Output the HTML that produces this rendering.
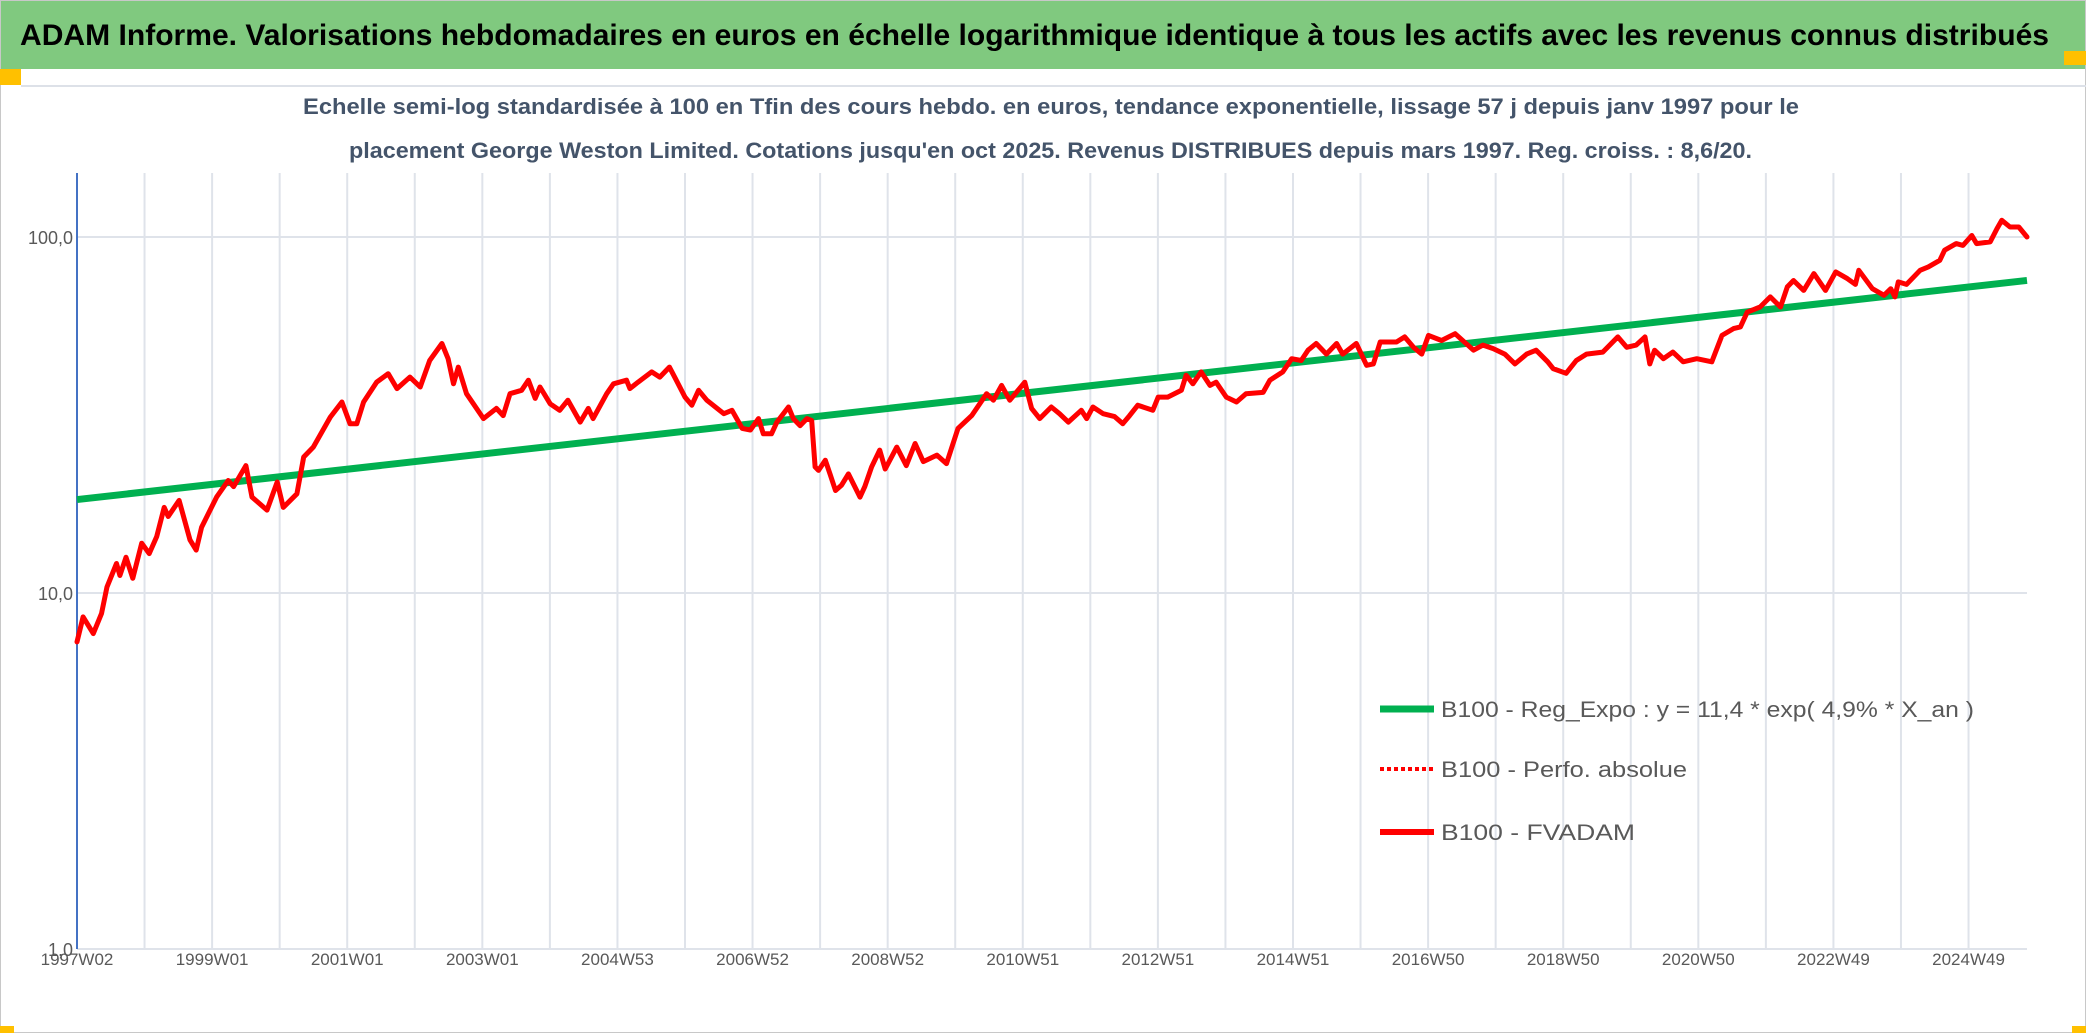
<!DOCTYPE html>
<html><head><meta charset="utf-8"><style>
html,body{margin:0;padding:0;background:#fff;}
svg{display:block;}
</style></head><body>
<svg id="chart" width="2086" height="1033" viewBox="0 0 2086 1033" xmlns="http://www.w3.org/2000/svg">
<rect x="0" y="0" width="2086" height="1033" fill="#fff"/>
<rect x="0.5" y="0.5" width="2085" height="1032" fill="none" stroke="#c8c8c8"/>
<rect x="1" y="1" width="2084" height="68" fill="#80c97f"/>
<rect x="0" y="69" width="21" height="16" fill="#ffc000"/>
<rect x="2064" y="51" width="22" height="14" fill="#ffc000"/>
<rect x="0" y="1026" width="14" height="7" fill="#ffc000"/>
<rect x="2072" y="1026" width="14" height="7" fill="#ffc000"/>
<line x1="21" y1="86" x2="2086" y2="86" stroke="#dde1e8" stroke-width="2"/>
<text x="20" y="45" font-family="Liberation Sans, sans-serif" font-weight="bold" font-size="30" fill="#000" textLength="2029" lengthAdjust="spacingAndGlyphs">ADAM Informe. Valorisations hebdomadaires en euros en échelle logarithmique identique à tous les actifs avec les revenus connus distribués</text>
<text x="303" y="114" font-family="Liberation Sans, sans-serif" font-weight="bold" font-size="22" fill="#44546a" textLength="1496" lengthAdjust="spacingAndGlyphs">Echelle semi-log standardisée à 100 en Tfin des cours hebdo. en euros, tendance exponentielle, lissage 57 j depuis janv 1997 pour le</text>
<text x="349" y="158" font-family="Liberation Sans, sans-serif" font-weight="bold" font-size="22" fill="#44546a" textLength="1403" lengthAdjust="spacingAndGlyphs">placement George Weston Limited. Cotations jusqu'en oct 2025. Revenus DISTRIBUES depuis mars 1997. Reg. croiss. : 8,6/20.</text>
<g id="grid"></g>
<g id="axes"></g>
<g id="series"></g>
<g id="legend">
  <line x1="1380" y1="709" x2="1434" y2="709" stroke="#00b050" stroke-width="7"/>
  <text x="1441" y="717" font-family="Liberation Sans, sans-serif" font-size="22" fill="#595959" textLength="533" lengthAdjust="spacingAndGlyphs">B100 - Reg_Expo : y = 11,4 * exp( 4,9% *  X_an )</text>
  <line x1="1380" y1="769" x2="1434" y2="769" stroke="#ff0000" stroke-width="4" stroke-dasharray="4,3"/>
  <text x="1441" y="777" font-family="Liberation Sans, sans-serif" font-size="22" fill="#595959" textLength="246" lengthAdjust="spacingAndGlyphs">B100 - Perfo. absolue</text>
  <line x1="1380" y1="832" x2="1434" y2="832" stroke="#ff0000" stroke-width="6"/>
  <text x="1441" y="840" font-family="Liberation Sans, sans-serif" font-size="22" fill="#595959" textLength="194" lengthAdjust="spacingAndGlyphs">B100 - FVADAM</text>
</g>
</svg>
<script>
// ---- data ----
const dates = [1997.0,1997.09,1997.24,1997.36,1997.44,1997.58,1997.63,1997.72,1997.82,1997.95,1998.06,1998.17,1998.28,1998.34,1998.50,1998.66,1998.75,1998.83,1999.05,1999.22,1999.30,1999.48,1999.57,1999.79,1999.94,2000.03,2000.23,2000.33,2000.47,2000.72,2000.89,2001.01,2001.11,2001.21,2001.40,2001.57,2001.70,2001.89,2002.04,2002.18,2002.36,2002.45,2002.53,2002.60,2002.72,2002.97,2003.16,2003.26,2003.36,2003.53,2003.63,2003.73,2003.80,2003.95,2004.09,2004.21,2004.39,2004.51,2004.58,2004.78,2004.88,2005.07,2005.12,2005.24,2005.44,2005.56,2005.70,2005.79,2005.93,2006.03,2006.13,2006.25,2006.50,2006.62,2006.77,2006.89,2007.01,2007.08,2007.20,2007.28,2007.45,2007.52,2007.62,2007.72,2007.79,2007.84,2007.89,2007.99,2008.06,2008.14,2008.23,2008.33,2008.50,2008.57,2008.67,2008.79,2008.87,2009.04,2009.18,2009.31,2009.43,2009.63,2009.77,2009.94,2010.14,2010.36,2010.46,2010.58,2010.70,2010.92,2011.02,2011.14,2011.31,2011.43,2011.56,2011.75,2011.83,2011.92,2012.07,2012.24,2012.36,2012.46,2012.58,2012.80,2012.88,2013.02,2013.22,2013.29,2013.39,2013.51,2013.64,2013.73,2013.88,2014.03,2014.17,2014.42,2014.52,2014.71,2014.84,2014.98,2015.08,2015.20,2015.35,2015.50,2015.59,2015.79,2015.94,2016.04,2016.14,2016.38,2016.50,2016.63,2016.75,2016.85,2017.04,2017.24,2017.51,2017.65,2017.80,2017.97,2018.12,2018.29,2018.43,2018.60,2018.68,2018.87,2019.02,2019.17,2019.41,2019.63,2019.76,2019.90,2020.03,2020.10,2020.17,2020.30,2020.44,2020.59,2020.79,2021.01,2021.16,2021.33,2021.43,2021.53,2021.72,2021.87,2022.02,2022.12,2022.21,2022.36,2022.51,2022.68,2022.83,2023.00,2023.12,2023.17,2023.37,2023.54,2023.64,2023.70,2023.75,2023.87,2024.07,2024.19,2024.36,2024.43,2024.60,2024.70,2024.83,2024.90,2025.10,2025.20,2025.27,2025.39,2025.52,2025.64];
const fvadam = [7.29,8.57,7.69,8.75,10.4,12.1,11.2,12.6,11.0,13.8,12.9,14.4,17.4,16.4,18.2,14.1,13.2,15.3,18.6,20.7,19.9,22.8,18.6,17.1,20.5,17.4,19.0,24.1,25.7,31.2,34.4,29.9,29.9,34.4,39.1,41.3,37.5,40.4,37.9,45.0,50.2,45.5,38.7,43.1,36.3,30.9,33.0,31.5,36.3,37.1,39.6,35.2,37.9,34.0,32.6,34.8,30.2,33.0,30.9,36.3,38.7,39.6,37.5,39.1,41.8,40.4,43.1,40.0,35.5,33.7,37.1,34.8,31.9,32.6,29.0,28.7,30.9,28.0,28.0,30.2,33.3,30.9,29.5,30.9,30.5,22.6,22.1,23.6,21.6,19.4,20.1,21.6,18.6,19.9,22.6,25.2,22.3,25.7,22.8,26.3,23.4,24.4,23.1,29.0,31.5,36.3,34.8,38.3,34.8,39.1,33.0,30.9,33.3,31.9,30.2,32.6,30.9,33.3,31.9,31.3,29.9,31.5,33.7,32.6,35.5,35.5,37.1,40.9,38.7,41.8,38.3,39.1,35.5,34.4,36.3,36.6,39.6,41.8,45.5,45.0,48.1,50.2,46.9,50.2,46.9,50.2,43.6,44.0,50.7,50.7,52.4,49.0,46.9,52.9,51.2,53.5,48.1,49.7,48.6,46.9,44.0,46.9,48.1,44.6,42.7,41.4,45.0,46.9,47.5,52.4,49.0,49.7,52.4,44.0,48.1,45.5,47.5,44.6,45.5,44.6,52.9,55.3,55.9,61.5,63.6,67.9,63.6,72.4,75.5,70.8,78.9,70.8,79.8,76.4,73.6,80.6,71.6,68.6,71.6,67.9,74.8,73.6,80.6,82.4,86.0,91.8,95.8,94.7,101,95.8,96.9,105.6,111.4,106.7,106.7,100];
const trendDates = [1997.0, 2025.64];
const trendValues = [18.3, 75.5];
const yTickValues = [1, 10, 100];
const yTickLabels = ["1,0", "10,0", "100,0"];
const xTickLabels = ["1997W02","1999W01","2001W01","2003W01","2004W53","2006W52","2008W52","2010W51","2012W51","2014W51","2016W50","2018W50","2020W50","2022W49","2024W49"];
const weeksPerTick = 104;
const totalWeeks = 1501;
const gridWeekStep = 52;

// ---- scales ----
const PL = 77, PR = 2027, PT = 173, PB = 949;
const yLogMin = 0, yLogMax = 2;  // 1 .. 100
const yAt1 = 949, yAt100 = 237;
function yScale(v){ return yAt1 - (Math.log10(v) - yLogMin) / (yLogMax - yLogMin) * (yAt1 - yAt100); }
function xScale(t){ return PL + (t - dates[0]) / (dates[dates.length-1] - dates[0]) * (PR - PL); }
function xWeek(w){ return PL + w / totalWeeks * (PR - PL); }

const NS = "http://www.w3.org/2000/svg";
function mk(tag, attrs, parent){ const e = document.createElementNS(NS, tag); for (const k in attrs) e.setAttribute(k, attrs[k]); parent.appendChild(e); return e; }

const grid = document.getElementById('grid');
const axes = document.getElementById('axes');
const series = document.getElementById('series');

// vertical gridlines
for (let w = gridWeekStep; w < totalWeeks; w += gridWeekStep) {
  const x = xWeek(w);
  const l = mk('line', {x1:x, y1:PT, x2:x, y2:PB, stroke:'#dfe3ea', 'stroke-width':2}, grid);
  
  
}
// horizontal gridlines + y labels
yTickValues.forEach((v, i) => {
  const y = yScale(v);
  const l = mk('line', {x1:PL, y1:y, x2:PR, y2:y, stroke:'#dfe3ea', 'stroke-width':2}, grid);
  
  
  const t = mk('text', {x:73, y:y+7, 'text-anchor':'end', 'font-family':'Liberation Sans, sans-serif', 'font-size':18, fill:'#595959'}, axes);
  t.textContent = yTickLabels[i];
  
  
});
// x labels
xTickLabels.forEach((lab, i) => {
  const x = xWeek(i * weeksPerTick);
  const t = mk('text', {x:x, y:965, 'text-anchor':'middle', 'font-family':'Liberation Sans, sans-serif', 'font-size':17, fill:'#595959'}, axes);
  t.textContent = lab;
  
  
});
// y axis line
const ax = mk('line', {x1:PL, y1:PT, x2:PL, y2:PB, stroke:'#4472c4', 'stroke-width':2}, axes);



// trend line (exponential => straight in log scale)
const tr = mk('line', {x1:xScale(trendDates[0]), y1:yScale(trendValues[0]), x2:xScale(trendDates[1]), y2:yScale(trendValues[1]), stroke:'#00b050', 'stroke-width':7}, series);



// FVADAM line
const pts = dates.map((d, i) => xScale(d).toFixed(1) + ',' + yScale(fvadam[i]).toFixed(1)).join(' ');
const pl = mk('polyline', {points:pts, fill:'none', stroke:'#ff0000', 'stroke-width':5, 'stroke-linejoin':'round', 'stroke-linecap':'round'}, series);


</script>
</body></html>
